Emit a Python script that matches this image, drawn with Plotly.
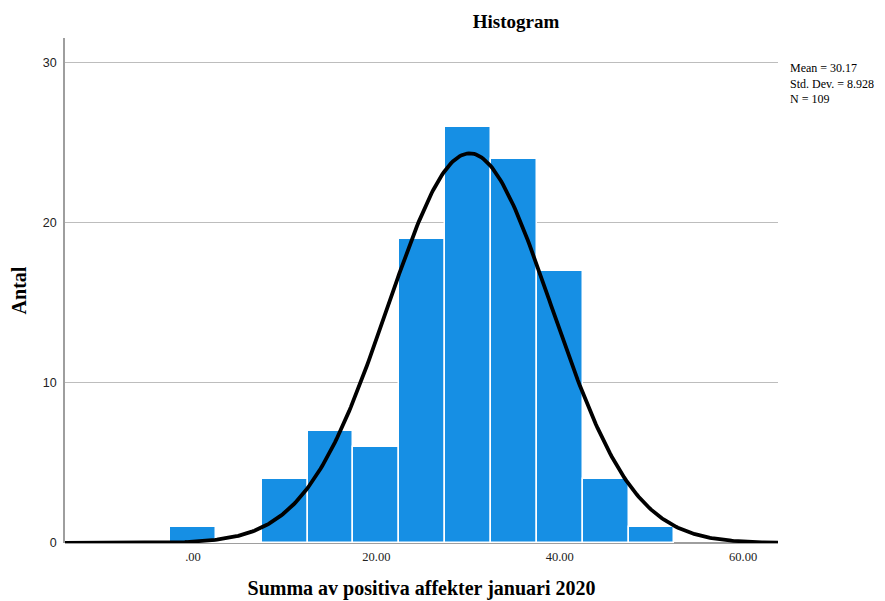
import numpy as np
import plotly.graph_objects as go

# Binned counts (bin width 5, centred on the listed values)
bin_centers = [0, 5, 10, 15, 20, 25, 30, 35, 40, 45, 50]
counts = [1, 0, 4, 7, 6, 19, 26, 24, 17, 4, 1]
bin_width = 5

mean = 30.17
std = 8.928
n = 109

x_tick_vals = [0, 20, 40, 60]
x_tick_text = [".00", "20.00", "40.00", "60.00"]
y_tick_vals = [0, 10, 20, 30]

x_range = [-13.96, 63.8]
y_range = [0, 31.56]

# Fitted normal curve scaled to counts
xs = np.linspace(x_range[0], x_range[1], 400)
ys = n * bin_width / (std * np.sqrt(2 * np.pi)) * np.exp(-0.5 * ((xs - mean) / std) ** 2)

serif = "Liberation Serif, Times New Roman, serif"
sans = "Liberation Sans, Arial, sans-serif"

W, H = 885, 601
L, R, T, B = 65, 107, 38, 58
plot_w = W - L - R
plot_h = H - T - B


def px_x(px):
    return (px - L) / plot_w


def px_y(py):
    return (H - B - py) / plot_h


fig = go.Figure()
fig.add_trace(go.Bar(
    x=bin_centers, y=counts, width=bin_width,
    marker=dict(color="#168FE4", line=dict(color="white", width=1.5)),
    hoverinfo="skip",
))
fig.add_trace(go.Scatter(
    x=xs, y=ys, mode="lines",
    line=dict(color="black", width=3.8),
    hoverinfo="skip",
))

stats_text = f"Mean = {mean}<br>Std. Dev. = {std}<br>N = {n}"

fig.update_layout(
    width=W, height=H,
    margin=dict(l=L, r=R, t=T, b=B, autoexpand=False),
    paper_bgcolor="white", plot_bgcolor="white",
    showlegend=False,
    bargap=0,
    title=dict(text="<b>Histogram</b>", x=516 / W, xanchor="center",
               y=1 - 21 / H, yanchor="middle",
               font=dict(family=serif, size=19, color="black")),
    xaxis=dict(
        range=x_range, tickvals=x_tick_vals, ticktext=x_tick_text,
        showgrid=False, zeroline=False, showline=False,
        ticks="", ticklabelstandoff=4, automargin=False,
        tickfont=dict(family=serif, size=12.5, color="#222"),
        title=dict(text="<b>Summa av positiva affekter januari 2020</b>",
                   font=dict(family=serif, size=20, color="black"), standoff=18),
    ),
    yaxis=dict(
        range=y_range, tickvals=y_tick_vals,
        showgrid=True, gridcolor="#BDBDBD", gridwidth=1,
        zeroline=True, zerolinecolor="#9E9E9E", zerolinewidth=1.5,
        showline=True, linecolor="#9E9E9E", linewidth=1.5,
        ticks="", ticklabelstandoff=4, automargin=False,
        tickfont=dict(family=sans, size=12.5, color="#222"),
        title=dict(text="<b>Antal</b>", font=dict(family=serif, size=20, color="black"),
                   standoff=11),
    ),
    annotations=[dict(
        x=px_x(788), y=px_y(59), xref="paper", yref="paper",
        xanchor="left", yanchor="top", align="left", showarrow=False,
        text=stats_text, font=dict(family=serif, size=12, color="black"),
    )],
)

fig.write_html("out.html")
